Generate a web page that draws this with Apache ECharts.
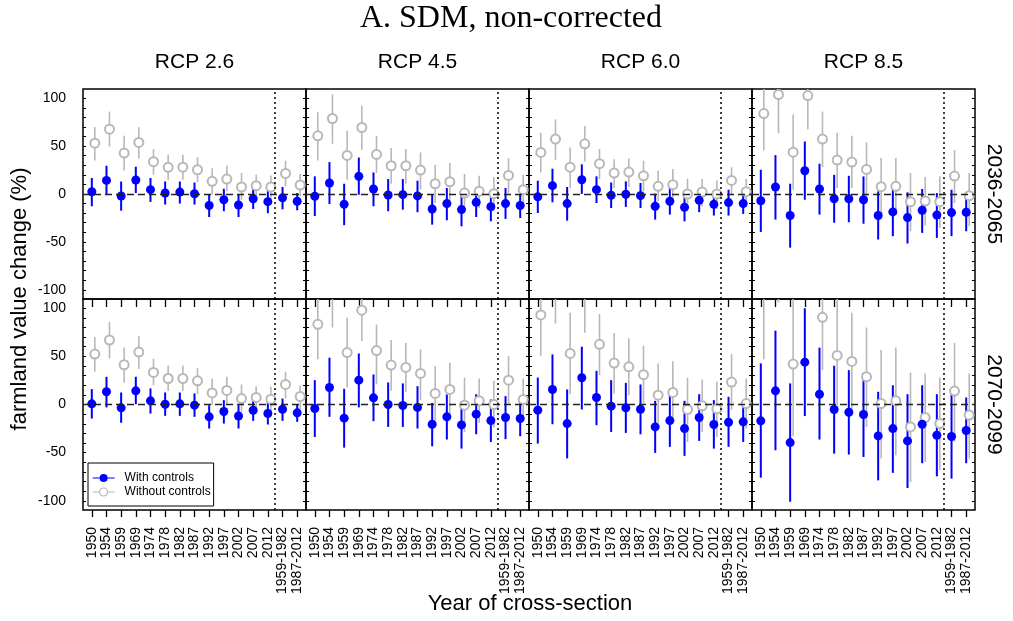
<!DOCTYPE html>
<html>
<head>
<meta charset="utf-8">
<script src="https://cdn.jsdelivr.net/npm/echarts@6/dist/echarts.min.js"></script>
<style>html,body{margin:0;padding:0;background:#fff}#c{width:1013px;height:621px}</style>
</head>
<body>
<div id="c"></div>
<script>
// ---------- categories & labels ----------
const categories = ['1950','1954','1959','1969','1974','1978','1982','1987','1992','1997','2002','2007','2012','1959-1982','1987-2012'];
const rcpLabels = ['RCP 2.6','RCP 4.5','RCP 6.0','RCP 8.5'];
const periodLabels = ['2036-2065','2070-2099'];
const yTickValues = [-100,-90,-80,-70,-60,-50,-40,-30,-20,-10,0,10,20,30,40,50,60,70,80,90,100];
const yLabelValues = [-100,-50,0,50,100];
const separatorPosition = 12.5; // between 2012 and 1959-1982

// ---------- RCP 2.6, 2036-2065 ----------
const r26a_with_mean = [2.4, 14.2, -2.1, 14.6, 4.5, 1.0, 2.0, 0.3, -12.0, -6.0, -11.5, -5.0, -8.0, -4.0, -7.6];
const r26a_with_lo   = [-12.8, -0.7, -17.4, 1.0, -8.3, -11.0, -10.0, -11.0, -24.0, -18.0, -24.0, -15.6, -20.0, -16.0, -17.0];
const r26a_with_hi   = [16.7, 29.5, 13.0, 28.5, 16.7, 13.0, 13.0, 12.0, -0.7, 5.5, -0.7, 5.5, 3.5, 7.3, 1.0];
const r26a_wo_mean   = [53.0, 67.7, 42.7, 53.8, 33.7, 27.8, 28.0, 25.3, 13.2, 15.6, 7.3, 8.7, 7.3, 21.5, 9.4];
const r26a_wo_lo     = [35.0, 49.6, 24.6, 37.0, 20.0, 15.0, 15.0, 12.5, -0.7, 2.8, -6.0, -2.4, -5.0, 8.0, -2.4];
const r26a_wo_hi     = [70.0, 86.0, 60.7, 69.7, 46.8, 41.0, 41.0, 38.5, 27.0, 29.5, 22.0, 20.0, 19.4, 34.7, 20.8];

// ---------- RCP 4.5, 2036-2065 ----------
const r45a_with_mean = [-2.4, 11.5, -10.8, 18.4, 5.2, -1.0, -0.7, -2.0, -15.6, -10.0, -16.3, -8.7, -13.2, -10.0, -12.0];
const r45a_with_lo   = [-23.0, -10.4, -32.6, -0.7, -12.8, -18.0, -16.3, -19.0, -32.0, -27.4, -33.7, -24.0, -28.5, -26.0, -25.0];
const r45a_with_hi   = [18.4, 33.3, 10.7, 38.0, 22.5, 15.6, 15.6, 13.9, 0.0, 6.2, 0.0, 6.2, 0.0, 6.2, -0.7];
const r45a_wo_mean   = [60.7, 78.8, 40.3, 69.4, 41.3, 29.5, 29.5, 25.0, 10.7, 12.8, 1.0, 2.8, 0.3, 19.4, 4.5];
const r45a_wo_lo     = [35.0, 52.4, 15.0, 46.0, 21.9, 10.7, 10.7, 4.5, -9.4, -7.6, -18.0, -14.6, -18.0, 1.0, -12.8];
const r45a_wo_hi     = [85.4, 104.0, 66.0, 92.0, 60.7, 48.0, 47.0, 43.4, 30.5, 32.3, 21.0, 19.0, 17.7, 37.5, 20.0];

// ---------- RCP 6.0, 2036-2065 ----------
const r60a_with_mean = [-3.0, 8.7, -10.0, 14.9, 4.5, -1.4, -0.3, -1.7, -12.8, -7.6, -13.9, -6.6, -10.8, -9.0, -10.0];
const r60a_with_lo   = [-19.8, -8.7, -27.8, 0.0, -9.4, -14.6, -13.5, -14.6, -26.7, -21.5, -28.5, -19.0, -22.5, -22.5, -20.8];
const r60a_with_hi   = [13.9, 26.4, 7.3, 31.0, 18.4, 12.0, 13.2, 11.5, 0.3, 6.2, 0.0, 6.2, 1.0, 4.5, 1.0];
const r60a_wo_mean   = [43.4, 57.3, 28.0, 52.4, 31.6, 21.9, 22.9, 19.0, 8.0, 9.7, 0.0, 2.0, 0.0, 14.2, 2.4];
const r60a_wo_lo     = [22.5, 35.7, 6.2, 34.0, 15.6, 6.2, 7.3, 2.8, -7.6, -6.6, -14.6, -12.8, -15.6, -0.7, -11.0];
const r60a_wo_hi     = [64.0, 78.0, 48.6, 71.0, 47.0, 36.4, 37.0, 34.7, 24.3, 26.0, 16.0, 15.6, 14.2, 28.0, 15.6];

// ---------- RCP 8.5, 2036-2065 ----------
const r85a_with_mean = [-7.0, 7.3, -22.5, 24.3, 5.2, -4.9, -4.9, -6.0, -22.5, -18.7, -24.6, -17.0, -22.0, -19.4, -19.0];
const r85a_with_lo   = [-39.6, -26.7, -56.0, -6.0, -21.5, -30.0, -29.5, -31.0, -47.5, -44.0, -51.7, -40.6, -45.8, -44.0, -38.9];
const r85a_with_hi   = [25.3, 40.6, 10.7, 54.8, 31.6, 20.0, 19.0, 18.4, 2.8, 6.2, 1.7, 5.2, 1.0, 4.5, 1.0];
const r85a_wo_mean   = [84.0, 103.8, 43.7, 102.7, 57.3, 35.4, 33.3, 25.7, 7.6, 8.0, -8.0, -7.3, -8.0, 18.7, -1.7];
const r85a_wo_lo     = [45.5, 63.5, 4.5, 67.7, 28.0, 6.2, 6.2, -2.4, -19.8, -21.5, -38.9, -33.0, -35.4, -9.4, -33.7];
const r85a_wo_hi     = [122, 144, 83.0, 138, 86.0, 64.0, 60.7, 53.8, 37.5, 37.5, 21.9, 17.7, 18.4, 46.0, 21.9];

// ---------- RCP 2.6, 2070-2099 ----------
const r26b_with_mean = [0.7, 13.2, -3.5, 14.2, 3.8, 0.3, 0.7, -0.7, -12.8, -7.3, -12.0, -6.0, -9.4, -4.9, -8.7];
const r26b_with_lo   = [-14.6, -3.0, -19.0, 0.3, -9.4, -11.8, -11.8, -12.8, -25.0, -19.8, -25.0, -17.0, -20.8, -17.0, -18.0];
const r26b_with_hi   = [16.0, 28.8, 12.5, 28.8, 16.7, 12.5, 12.5, 11.5, -0.7, 4.5, -0.7, 6.2, 2.8, 6.2, 0.3];
const r26b_wo_mean   = [52.4, 67.0, 41.3, 54.5, 33.3, 27.0, 27.0, 24.6, 12.0, 14.6, 6.2, 7.3, 5.5, 20.8, 8.3];
const r26b_wo_lo     = [34.0, 47.9, 22.5, 37.0, 20.0, 14.0, 14.0, 10.7, -0.7, 1.0, -7.6, -6.0, -8.7, 6.2, -5.0];
const r26b_wo_hi     = [70.0, 85.7, 59.3, 71.0, 47.5, 40.6, 40.6, 37.8, 26.7, 28.8, 20.8, 19.0, 18.4, 34.0, 19.4];

// ---------- RCP 4.5, 2070-2099 ----------
const r45b_with_mean = [-4.2, 17.7, -14.2, 25.3, 6.9, 0.0, -1.0, -3.0, -20.5, -12.8, -21.2, -10.0, -16.7, -13.5, -14.6];
const r45b_with_lo   = [-33.7, -12.8, -44.8, -3.0, -17.3, -23.3, -23.3, -25.0, -43.4, -36.4, -45.8, -30.9, -38.9, -36.0, -33.0];
const r45b_with_hi   = [25.3, 48.6, 16.3, 53.0, 31.2, 22.9, 21.9, 19.0, 1.7, 10.4, 2.8, 10.7, 5.2, 8.7, 6.2];
const r45b_wo_mean   = [83.3, 118, 54.0, 98.0, 56.0, 41.0, 38.5, 32.3, 11.5, 15.6, -0.7, 3.8, 0.0, 25.3, 5.2];
const r45b_wo_lo     = [47.0, 80.0, 17.7, 66.0, 21.0, 14.2, 13.2, 4.5, -16.3, -12.8, -28.5, -19.0, -24.0, 1.0, -16.3];
const r45b_wo_hi     = [120, 156, 90.0, 130, 83.0, 67.0, 64.0, 57.3, 40.0, 43.4, 28.0, 27.0, 24.6, 50.3, 27.0];

// ---------- RCP 6.0, 2070-2099 ----------
const r60b_with_mean = [-5.9, 15.6, -19.8, 27.8, 7.3, -1.7, -3.5, -4.9, -23.3, -16.7, -25.0, -13.5, -20.8, -18.4, -18.0];
const r60b_with_lo   = [-40.6, -20.5, -56.0, -5.2, -21.5, -28.5, -29.5, -31.0, -50.3, -44.0, -53.4, -37.8, -45.8, -44.0, -38.9];
const r60b_with_hi   = [28.0, 52.0, 15.6, 60.0, 35.0, 25.3, 22.5, 20.8, 3.8, 9.7, 3.8, 10.7, 4.5, 8.0, 2.8];
const r60b_wo_mean   = [93.0, 115, 53.0, 112, 62.5, 43.0, 39.2, 31.0, 9.7, 12.5, -5.2, -1.4, -4.5, 23.3, 1.0];
const r60b_wo_lo     = [50.6, 84.0, 10.7, 74.6, 30.5, 11.5, 9.7, 1.0, -19.8, -18.0, -38.9, -28.5, -33.7, -5.2, -25.0];
const r60b_wo_hi     = [135, 150, 95.4, 150, 94.0, 74.3, 68.7, 61.0, 42.7, 45.0, 27.8, 26.0, 23.6, 52.4, 27.0];

// ---------- RCP 8.5, 2070-2099 ----------
const r85b_with_mean = [-17.0, 14.2, -39.6, 44.0, 10.7, -5.2, -8.0, -10.4, -32.6, -25.0, -37.8, -20.5, -32.0, -33.3, -27.0];
const r85b_with_lo   = [-76.0, -47.5, -101, -12.0, -36.4, -51.0, -52.0, -54.5, -78.8, -71.0, -86.8, -61.0, -74.6, -77.0, -61.0];
const r85b_with_hi   = [42.7, 76.7, 21.9, 100, 59.0, 40.3, 35.7, 33.0, 13.2, 20.0, 10.7, 20.0, 10.7, 10.4, 7.3];
const r85b_wo_mean   = [120, 150, 42.0, 160, 90.6, 51.0, 44.8, 28.8, 1.0, 3.8, -23.3, -13.5, -19.8, 13.9, -11.0];
const r85b_wo_lo     = [47.0, 106, -33.0, 115, 35.7, -0.7, -5.2, -23.3, -56.0, -52.7, -80.5, -59.7, -68.4, -38.9, -56.0];
const r85b_wo_hi     = [190, 200, 118, 200, 145, 112, 95.4, 80.0, 56.6, 59.3, 33.0, 32.3, 28.0, 64.0, 32.3];

// ---------- panel table (row, col -> arrays) ----------
const panels = [
  {row:0, col:0, w:[r26a_with_mean, r26a_with_lo, r26a_with_hi], o:[r26a_wo_mean, r26a_wo_lo, r26a_wo_hi]},
  {row:0, col:1, w:[r45a_with_mean, r45a_with_lo, r45a_with_hi], o:[r45a_wo_mean, r45a_wo_lo, r45a_wo_hi]},
  {row:0, col:2, w:[r60a_with_mean, r60a_with_lo, r60a_with_hi], o:[r60a_wo_mean, r60a_wo_lo, r60a_wo_hi]},
  {row:0, col:3, w:[r85a_with_mean, r85a_with_lo, r85a_with_hi], o:[r85a_wo_mean, r85a_wo_lo, r85a_wo_hi]},
  {row:1, col:0, w:[r26b_with_mean, r26b_with_lo, r26b_with_hi], o:[r26b_wo_mean, r26b_wo_lo, r26b_wo_hi]},
  {row:1, col:1, w:[r45b_with_mean, r45b_with_lo, r45b_with_hi], o:[r45b_wo_mean, r45b_wo_lo, r45b_wo_hi]},
  {row:1, col:2, w:[r60b_with_mean, r60b_with_lo, r60b_with_hi], o:[r60b_wo_mean, r60b_wo_lo, r60b_wo_hi]},
  {row:1, col:3, w:[r85b_with_mean, r85b_with_lo, r85b_with_hi], o:[r85b_wo_mean, r85b_wo_lo, r85b_wo_hi]}
];

// ---------- styling / layout ----------
const BLUE = '#0000ff';
const GRAY = '#b8b8b8';
const SANS = 'Liberation Sans, Arial, sans-serif';
const SERIF = 'Liberation Serif, Times New Roman, serif';
const colLeft = [83, 306, 529, 752];
const colWidth = 223;
const rowTop = [89, 299];
const rowHeight = [210, 211];
const X_MIN = -0.6, X_MAX = 14.6;
const Y_MIN = -109.6, Y_MAX = 109.6;
const GRAY_OFFSET = 3; // px shift of the "without controls" markers
const catIdx = categories.map((c, i) => i);

function errorBarRenderer(color, width, offset) {
  return function (params, api) {
    const x = api.value(0);
    const lo = api.value(1), hi = api.value(2);
    const cs = params.coordSys;
    const pLo = api.coord([x, lo]);
    const pHi = api.coord([x, hi]);
    const top = cs.y, bot = cs.y + cs.height;
    let y1 = Math.min(pLo[1], pHi[1]), y2 = Math.max(pLo[1], pHi[1]);
    if (y2 < top || y1 > bot) return null;
    y1 = Math.max(y1, top); y2 = Math.min(y2, bot);
    const px = pLo[0] + offset;
    return {
      type: 'line',
      shape: {x1: px, y1: y1, x2: px, y2: y2},
      style: {stroke: color, lineWidth: width}
    };
  };
}

const grid = [], xAxis = [], yAxis = [], series = [];
panels.forEach((p, k) => {
  grid.push({
    left: colLeft[p.col], top: rowTop[p.row], width: colWidth, height: rowHeight[p.row],
    show: true, borderColor: '#000', borderWidth: 1.5, backgroundColor: 'transparent',
    containLabel: false, outerBoundsMode: 'none'
  });
  const isBottom = p.row === 1;
  // bottom x axis (labels for bottom row)
  xAxis.push({
    gridIndex: k, type: 'value', min: X_MIN, max: X_MAX, position: 'bottom',
    axisLine: {show: false, onZero: false}, splitLine: {show: false},
    axisTick: {show: isBottom, inside: false, length: 7, customValues: catIdx, lineStyle: {color: '#000', width: 1.3}},
    axisLabel: {
      show: isBottom, customValues: catIdx, rotate: 90, margin: 17,
      fontFamily: SANS, fontSize: 14, color: '#000',
      formatter: v => categories[Math.round(v)]
    }
  });
  // top x axis (inside ticks on bottom-row panels)
  xAxis.push({
    gridIndex: k, type: 'value', min: X_MIN, max: X_MAX, position: 'top',
    axisLine: {show: false, onZero: false}, splitLine: {show: false},
    axisTick: {show: isBottom, inside: true, length: 8, customValues: catIdx, lineStyle: {color: '#000', width: 1.3}},
    axisLabel: {show: false}
  });
  // left y axis
  yAxis.push({
    gridIndex: k, type: 'value', min: Y_MIN, max: Y_MAX, position: 'left',
    axisLine: {show: false, onZero: false}, splitLine: {show: false},
    axisTick: {show: true, inside: true, length: 3, customValues: yTickValues, lineStyle: {color: '#000', width: 1}},
    axisLabel: {show: p.col === 0, customValues: yLabelValues, margin: 17, fontFamily: SANS, fontSize: 14, color: '#000'}
  });
  // right y axis
  yAxis.push({
    gridIndex: k, type: 'value', min: Y_MIN, max: Y_MAX, position: 'right',
    axisLine: {show: false, onZero: false}, splitLine: {show: false},
    axisTick: {show: true, inside: true, length: 3, customValues: yTickValues, lineStyle: {color: '#000', width: 1}},
    axisLabel: {show: false}
  });
  const xi = 2 * k, yi = 2 * k;
  const woBars = catIdx.map(i => [i, p.o[1][i], p.o[2][i]]);
  const wBars = catIdx.map(i => [i, p.w[1][i], p.w[2][i]]);
  // gray error bars + reference lines
  series.push({
    type: 'custom', name: 'wo-bars-' + k, xAxisIndex: xi, yAxisIndex: yi, z: 1,
    renderItem: errorBarRenderer(GRAY, 1.6, GRAY_OFFSET),
    encode: {x: 0, y: [1, 2]}, data: woBars, silent: true, animation: false,
    markLine: {
      silent: true, symbol: ['none', 'none'], label: {show: false}, animation: false,
      data: [
        {yAxis: 0, lineStyle: {color: '#222', type: [7, 4], width: 1.4}},
        {xAxis: separatorPosition, lineStyle: {color: '#000', type: [2, 3], width: 1.5}}
      ]
    }
  });
  // blue error bars
  series.push({
    type: 'custom', name: 'w-bars-' + k, xAxisIndex: xi, yAxisIndex: yi, z: 2,
    renderItem: errorBarRenderer(BLUE, 2, 0),
    encode: {x: 0, y: [1, 2]}, data: wBars, silent: true, animation: false
  });
  // blue points
  series.push({
    type: 'scatter', name: 'With controls', xAxisIndex: xi, yAxisIndex: yi, z: 4,
    symbol: 'circle', symbolSize: 9, itemStyle: {color: BLUE, opacity: 1},
    data: catIdx.map(i => [i, p.w[0][i]]), clip: true, silent: true, animation: false
  });
  // gray open points
  series.push({
    type: 'scatter', name: 'Without controls', xAxisIndex: xi, yAxisIndex: yi, z: 3,
    symbol: 'emptyCircle', symbolSize: 9, symbolOffset: [GRAY_OFFSET, 0],
    itemStyle: {color: GRAY, borderWidth: 1.3, opacity: 1},
    data: catIdx.map(i => [i, p.o[0][i]]), clip: true, silent: true, animation: false
  });
});

const graphic = [];
rcpLabels.forEach((t, c) => {
  graphic.push({type: 'text', x: colLeft[c] + colWidth / 2, y: 62,
    style: {text: t, font: '21px ' + SANS, fill: '#000', textAlign: 'center', textVerticalAlign: 'middle'}});
});
periodLabels.forEach((t, r) => {
  graphic.push({type: 'text', x: 994, y: rowTop[r] + rowHeight[r] / 2, rotation: -Math.PI / 2,
    style: {text: t, font: '21px ' + SANS, fill: '#000', textAlign: 'center', textVerticalAlign: 'middle'}});
});
graphic.push({type: 'text', x: 20, y: 299, rotation: Math.PI / 2,
  style: {text: 'farmland value change (%)', font: '22px ' + SANS, fill: '#000', textAlign: 'center', textVerticalAlign: 'middle'}});
graphic.push({type: 'text', x: 530, y: 604,
  style: {text: 'Year of cross-section', font: '22px ' + SANS, fill: '#000', textAlign: 'center', textVerticalAlign: 'middle'}});
graphic.push({type: 'text', x: 511, y: 19,
  style: {text: 'A. SDM, non-corrected', font: '32px ' + SERIF, fill: '#000', textAlign: 'center', textVerticalAlign: 'middle'}});

const option = {
  backgroundColor: '#fff',
  animation: false,
  grid, xAxis, yAxis, series, graphic,
  legend: {
    left: 88, top: 463, orient: 'vertical', itemWidth: 22, itemHeight: 8, itemGap: 2,
    padding: [9, 3, 8, 4], borderColor: '#000', borderWidth: 1, backgroundColor: '#fff',
    selectedMode: false, z: 10,
    textStyle: {fontFamily: SANS, fontSize: 12, color: '#000', padding: [0, 0, 0, 5]},
    data: [
      {name: 'With controls', icon: 'path://M0,3.4H22V4.6H0Z M15,4A4,4,0,1,1,7,4A4,4,0,1,1,15,4Z', itemStyle: {color: BLUE, borderWidth: 0}},
      {name: 'Without controls', icon: 'path://M0,4H7M15,4H22M15,4A4,4,0,1,1,7,4A4,4,0,1,1,15,4', itemStyle: {color: 'rgba(0,0,0,0)', borderColor: GRAY, borderWidth: 1.2}}
    ]
  }
};

const chart = echarts.init(document.getElementById('c'), null, {renderer: 'canvas'});
chart.setOption(option);
</script>
</body>
</html>
